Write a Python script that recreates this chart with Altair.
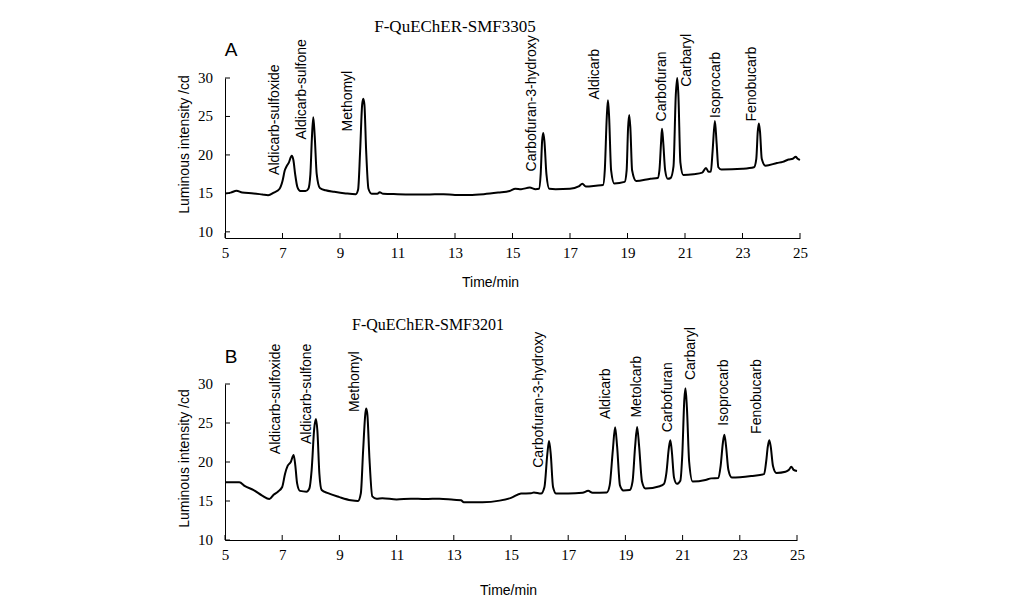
import altair as alt
import pandas as pd

# ---------------- data: chromatogram A (F-QuEChER-SMF3305) ----------------
a_time = [5.0, 5.2, 5.4, 5.6, 6.0, 6.3, 6.5, 6.7, 6.9, 7.0, 7.08, 7.14, 7.22, 7.32, 7.38, 7.44, 7.52, 7.62, 7.8,
          7.9, 7.97, 8.02, 8.07, 8.12, 8.19, 8.3, 8.5, 8.8, 9.2, 9.55, 9.63, 9.7, 9.77, 9.81, 9.85, 9.91, 9.99,
          10.1, 10.3, 10.38, 10.5, 11.0, 12.0, 12.6, 13.0, 13.5, 14.0, 14.5, 14.9, 15.1, 15.3, 15.6, 15.8, 15.92,
          15.98, 16.03, 16.07, 16.11, 16.18, 16.28, 16.5, 17.0, 17.3, 17.43, 17.55, 17.9, 18.15, 18.21, 18.28,
          18.32, 18.36, 18.43, 18.54, 18.9, 18.97, 19.02, 19.06, 19.1, 19.16, 19.3, 19.8, 20.05, 20.11, 20.17,
          20.2, 20.24, 20.31, 20.4, 20.5, 20.6, 20.68, 20.73, 20.77, 20.84, 20.94, 21.3, 21.6, 21.73, 21.82, 21.9,
          21.96, 22.04, 22.1, 22.16, 22.27, 23.0, 23.4, 23.48, 23.53, 23.57, 23.61, 23.67, 23.8, 24.2, 24.4,
          24.6, 24.75, 24.85, 24.92, 25.0]
a_int = [15.0, 15.1, 15.35, 15.1, 15.0, 14.85, 14.75, 15.1, 15.6, 16.6, 18.0, 18.5, 19.0, 19.9, 19.3, 17.5, 15.8,
         15.3, 15.3, 15.6, 17.5, 22.0, 24.9, 22.5, 17.5, 15.7, 15.4, 15.2, 15.0, 14.9, 15.5, 20.5, 26.5, 27.3,
         26.5, 20.5, 15.6, 14.95, 14.95, 15.15, 14.95, 14.9, 14.85, 14.9, 14.8, 14.8, 14.9, 15.1, 15.3, 15.6,
         15.55, 15.75, 15.55, 15.6, 17.5, 21.8, 22.85, 21.8, 17.5, 15.6, 15.55, 15.6, 15.9, 16.25, 15.9, 16.0,
         16.1, 18.0, 25.0, 27.1, 25.0, 18.0, 16.3, 16.5, 18.0, 23.5, 25.2, 23.5, 18.0, 16.6, 16.9, 17.0, 18.0,
         21.8, 23.4, 21.8, 18.0, 16.9, 17.0, 18.5, 27.8, 30.0, 27.8, 19.0, 17.4, 17.5, 17.7, 18.3, 17.8, 17.85,
         20.5, 24.4, 21.5, 18.4, 18.1, 18.2, 18.4, 19.5, 23.0, 24.1, 23.0, 19.5, 18.6, 18.95, 19.1, 19.4, 19.5,
         19.75, 19.5, 19.35]

# ---------------- data: chromatogram B (F-QuEChER-SMF3201) ----------------
b_time = [5.0, 5.5, 5.7, 6.0, 6.3, 6.55, 6.7, 6.85, 7.0, 7.1, 7.19, 7.3, 7.4, 7.46, 7.52, 7.62, 7.85, 7.95, 8.03,
          8.12, 8.18, 8.23, 8.3, 8.38, 8.6, 9.0, 9.4, 9.65, 9.75, 9.83, 9.91, 9.94, 9.98, 10.05, 10.15, 10.3,
          10.5, 11.0, 11.5, 12.0, 12.5, 13.0, 13.25, 13.35, 14.0, 14.6, 15.0, 15.35, 15.7, 15.8, 16.05, 16.17,
          16.27, 16.33, 16.39, 16.47, 16.58, 17.0, 17.5, 17.7, 17.85, 18.35, 18.45, 18.56, 18.64, 18.71, 18.81,
          18.93, 19.15, 19.25, 19.34, 19.41, 19.48, 19.58, 19.7, 20.2, 20.35, 20.43, 20.52, 20.57, 20.62, 20.7,
          20.8, 20.92, 20.99, 21.06, 21.1, 21.15, 21.23, 21.35, 21.8, 22.0, 22.25, 22.33, 22.41, 22.46, 22.52,
          22.6, 22.72, 23.4, 23.85, 23.92, 23.98, 24.03, 24.08, 24.16, 24.28, 24.6, 24.72, 24.8, 24.88, 25.0]
b_int = [17.4, 17.4, 16.9, 16.4, 15.7, 15.25, 15.8, 16.2, 16.8, 18.5, 19.5, 20.0, 20.9, 19.5, 17.3, 16.3, 16.2,
         16.6, 19.0, 24.3, 25.5, 24.0, 18.5, 16.4, 16.0, 15.5, 15.1, 15.0, 16.0, 21.5, 26.3, 26.85, 26.0, 20.5,
         15.6, 15.3, 15.35, 15.2, 15.3, 15.25, 15.3, 15.15, 15.1, 14.85, 14.85, 15.05, 15.4, 15.95, 16.0, 16.1,
         15.95, 16.8, 21.0, 22.7, 21.0, 16.8, 15.95, 15.95, 16.05, 16.3, 16.05, 16.1, 17.0, 21.5, 24.45, 22.0,
         17.0, 16.35, 16.4, 17.5, 22.0, 24.5, 22.0, 17.5, 16.6, 16.9, 17.2, 18.5, 21.8, 22.8, 21.5, 18.0, 17.2,
         17.6, 21.0, 28.0, 29.45, 27.0, 20.0, 17.5, 17.7, 17.9, 17.95, 19.5, 22.5, 23.5, 22.0, 19.0, 18.0, 18.2,
         18.45, 20.0, 22.0, 22.8, 22.0, 19.5, 18.6, 18.75, 19.0, 19.4, 19.0, 18.85]

# ---------------- peak labels ----------------
a_names = ["Aldicarb-sulfoxide", "Aldicarb-sulfone", "Methomyl", "Carbofuran-3-hydroxy", "Aldicarb",
           "Carbofuran", "Carbaryl", "Isoprocarb", "Fenobucarb"]
a_label_t = [6.74, 7.67, 9.27, 15.67, 17.87, 20.19, 21.06, 22.08, 23.32]
a_label_v = [17.4, 22.0, 23.05, 17.85, 27.2, 24.35, 28.85, 24.8, 24.35]

b_names = ["Aldicarb-sulfoxide", "Aldicarb-sulfone", "Methomyl", "Carbofuran-3-hydroxy", "Aldicarb",
           "Metolcarb", "Carbofuran", "Carbaryl", "Isoprocarb", "Fenobucarb"]
b_label_t = [6.78, 7.87, 9.55, 15.97, 18.32, 19.41, 20.48, 21.29, 22.44, 23.6]
b_label_v = [21.0, 22.3, 26.4, 19.25, 25.5, 25.7, 23.8, 30.5, 24.65, 23.6]

x_ticks = [5, 7, 9, 11, 13, 15, 17, 19, 21, 23, 25]
y_ticks = [10, 15, 20, 25, 30]

SERIF = "Liberation Serif"
SANS = "Liberation Sans"


def panel(times, vals, names, lt, lv, title, letter, ymin, w, h,
          title_x, title_y, letter_x, letter_y, xt_x, xt_y, yt_y, title_size):
    xs = alt.Scale(domain=[5, 25], nice=False, zero=False)
    ys = alt.Scale(domain=[ymin, 30], nice=False, zero=False)
    df = pd.DataFrame({"t": times, "v": vals})
    line = alt.Chart(df).mark_line(color="black", strokeWidth=2, interpolate="monotone").encode(
        x=alt.X("t:Q", scale=xs, axis=alt.Axis(
            values=x_ticks, ticks=False, labelPadding=7, labelFont=SERIF, labelFontSize=15,
            labelColor="black", domainColor="black", domainWidth=1, grid=False, labelFlush=False,
            labelOverlap=False,
            title="Time/min", titleFont=SANS, titleFontSize=14, titleFontWeight="normal",
            titleColor="black", titleX=xt_x, titleY=xt_y, titleBaseline="middle")),
        y=alt.Y("v:Q", scale=ys, axis=alt.Axis(
            values=y_ticks, ticks=False, labels=False, domainColor="black", domainWidth=1, grid=False,
            title="Luminous intensity /cd", titleFont=SANS, titleFontSize=14, titleFontWeight="normal",
            titleColor="black", titleX=-41, titleY=yt_y, titleBaseline="middle")),
    )
    ldf = pd.DataFrame({"t": lt, "v": lv, "name": names})
    labels = alt.Chart(ldf).mark_text(angle=270, align="left", baseline="middle", font=SANS,
                                      fontSize=14, color="black").encode(
        x=alt.X("t:Q", scale=xs), y=alt.Y("v:Q", scale=ys), text="name:N")
    xt = alt.Chart(pd.DataFrame({"t": x_ticks})).mark_rule(color="black", strokeWidth=1).encode(
        x=alt.X("t:Q", scale=xs), y=alt.value(h), y2=alt.value(h - 5))
    ydf = pd.DataFrame({"v": y_ticks, "lab": [str(v) for v in y_ticks]})
    yt = alt.Chart(ydf).mark_rule(color="black", strokeWidth=1).encode(
        y=alt.Y("v:Q", scale=ys), x=alt.value(0), x2=alt.value(5))
    ylab = alt.Chart(ydf).mark_text(font=SERIF, fontSize=15, color="black", align="right",
                                    baseline="middle").encode(
        y=alt.Y("v:Q", scale=ys), x=alt.value(-12), text="lab:N")
    ttl = alt.Chart(pd.DataFrame({"s": [title]})).mark_text(font=SERIF, fontSize=title_size,
                                                            color="black", baseline="middle").encode(
        x=alt.value(title_x), y=alt.value(title_y), text="s:N")
    let = alt.Chart(pd.DataFrame({"s": [letter]})).mark_text(font=SANS, fontSize=19, color="black",
                                                             baseline="middle").encode(
        x=alt.value(letter_x), y=alt.value(letter_y), text="s:N")
    return alt.layer(line, xt, yt, ylab, labels, ttl, let).properties(width=w, height=h)


chart_a = panel(a_time, a_int, a_names, a_label_t, a_label_v, "F-QuEChER-SMF3305", "A", 9.2, 575, 160,
                230, -51, 6, -28, 265, 44, 66, 17)
chart_b = panel(b_time, b_int, b_names, b_label_t, b_label_v, "F-QuEChER-SMF3201", "B", 10, 572, 156,
                203, -59, 6, -27, 283, 50, 74, 16)

chart = alt.vconcat(chart_a, chart_b, spacing=28).properties(
    padding={"left": 176, "top": 18, "right": 5, "bottom": 5},
    background="white",
).configure_view(stroke=None)

chart.save("out.html", embed_options={"renderer": "svg", "actions": False})
